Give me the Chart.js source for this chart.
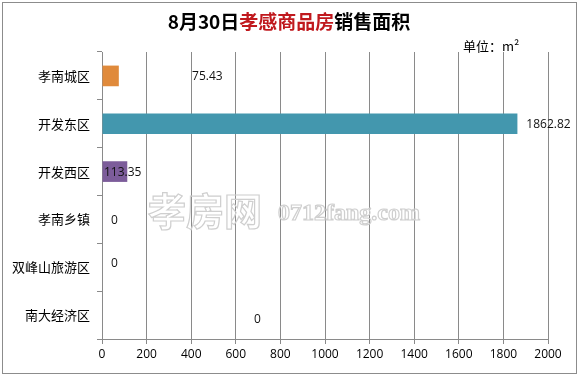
<!DOCTYPE html>
<html>
<head>
<meta charset="utf-8">
<script src="https://cdn.jsdelivr.net/npm/chart.js@4/dist/chart.umd.min.js"></script>
<style>
  html, body { margin: 0; padding: 0; background: #fff; }
  #wrap { width: 579px; height: 375px; position: relative; }
</style>
</head>
<body>
<div id="wrap"><canvas id="barChart"></canvas></div>
<script>
// data
const districts = ['孝南城区', '开发东区', '开发西区', '孝南乡镇', '双峰山旅游区', '南大经济区'];
const areaSold = [75.43, 1862.82, 113.35, 0, 0, 0];
const barColors = ['#E08A3B', '#4397AE', '#7C5C9A', '#4397AE', '#4397AE', '#4397AE'];
// where each value label starts, in axis units (the original places them loosely)
const labelAnchor = [404, 1903, 9, 40, 40, 682];
const labelShiftY = [0, 0, 0, 0, -5, 3];
const xMax = 2000;
const xStep = 200;

const titleParts = [
    { text: '8月30日', color: '#000' },
    { text: '孝感商品房', color: '#C0191E' },
    { text: '销售面积', color: '#000' }
];

const cjk = '"Noto Sans CJK SC", "Noto Sans", sans-serif';
const latin = '"Open Sans", "Noto Sans", sans-serif';

// frame, title, unit, watermark, value labels
const decorations = {
    id: 'decorations',
    beforeDraw(chart) {
        const ctx = chart.ctx;
        ctx.save();
        ctx.fillStyle = '#fff';
        ctx.fillRect(0, 0, chart.width, chart.height);
        ctx.strokeStyle = '#8c8c8c';
        ctx.lineWidth = 1;
        ctx.strokeRect(2.5, 2.5, chart.width - 5, chart.height - 4);
        ctx.restore();
    },
    beforeDatasetsDraw(chart) {
        const ctx = chart.ctx;
        ctx.save();
        ctx.strokeStyle = '#cfcfcf';
        ctx.lineWidth = 1.2;
        ctx.textBaseline = 'middle';
        ctx.font = 'bold 38px ' + cjk;
        ctx.strokeText('孝房网', 148, 211);
        ctx.font = 'bold 24px "Liberation Serif", serif';
        ctx.strokeText('0712fang.com', 278, 214);
        ctx.restore();
    },
    afterDraw(chart) {
        const ctx = chart.ctx;
        ctx.save();
        // title
        ctx.font = 'bold 19px ' + cjk;
        ctx.textBaseline = 'middle';
        let total = 0;
        titleParts.forEach(p => total += ctx.measureText(p.text).width);
        let x = 289 - total / 2;
        titleParts.forEach(p => {
            ctx.fillStyle = p.color;
            ctx.fillText(p.text, x, 22);
            x += ctx.measureText(p.text).width;
        });
        // unit
        ctx.font = '13px ' + cjk;
        ctx.fillStyle = '#000';
        ctx.fillText('单位：m²', 463, 46);

        // value labels
        const xs = chart.scales.x;
        const ys = chart.scales.y;
        ctx.font = '12px ' + latin;
        ctx.fillStyle = '#111';
        ctx.textAlign = 'left';
        areaSold.forEach((v, i) => {
            const px = xs.getPixelForValue(labelAnchor[i]);
            const py = ys.getPixelForValue(i) + labelShiftY[i];
            ctx.fillText(String(v), px, py + 1);
        });
        ctx.restore();
    }
};

new Chart(document.getElementById('barChart'), {
    type: 'bar',
    data: {
        labels: districts,
        datasets: [{
            data: areaSold,
            backgroundColor: barColors,
            borderWidth: 0,
            categoryPercentage: 0.9,
            barPercentage: 0.48
        }]
    },
    options: {
        indexAxis: 'y',
        responsive: true,
        maintainAspectRatio: false,
        animation: false,
        layout: { padding: { top: 52, right: 31, left: 0, bottom: 0 } },
        plugins: {
            legend: { display: false },
            tooltip: { enabled: false }
        },
        scales: {
            x: {
                min: 0,
                max: xMax,
                afterFit: s => { s.height = 36; },
                ticks: {
                    stepSize: xStep,
                    color: '#000',
                    padding: 3,
                    font: { size: 12, family: latin },
                    callback: v => String(v)
                },
                grid: { color: '#8a8a8a', tickLength: 5, tickColor: '#8a8a8a' },
                border: { color: '#8a8a8a' }
            },
            y: {
                afterFit: s => { s.width = 102; },
                ticks: {
                    color: '#000',
                    padding: 7,
                    font: { size: 13, family: cjk }
                },
                grid: {
                    offset: true,
                    drawOnChartArea: false,
                    tickLength: 5,
                    tickColor: '#8a8a8a'
                },
                border: { color: '#8a8a8a' }
            }
        }
    },
    plugins: [decorations]
});
</script>
</body>
</html>
